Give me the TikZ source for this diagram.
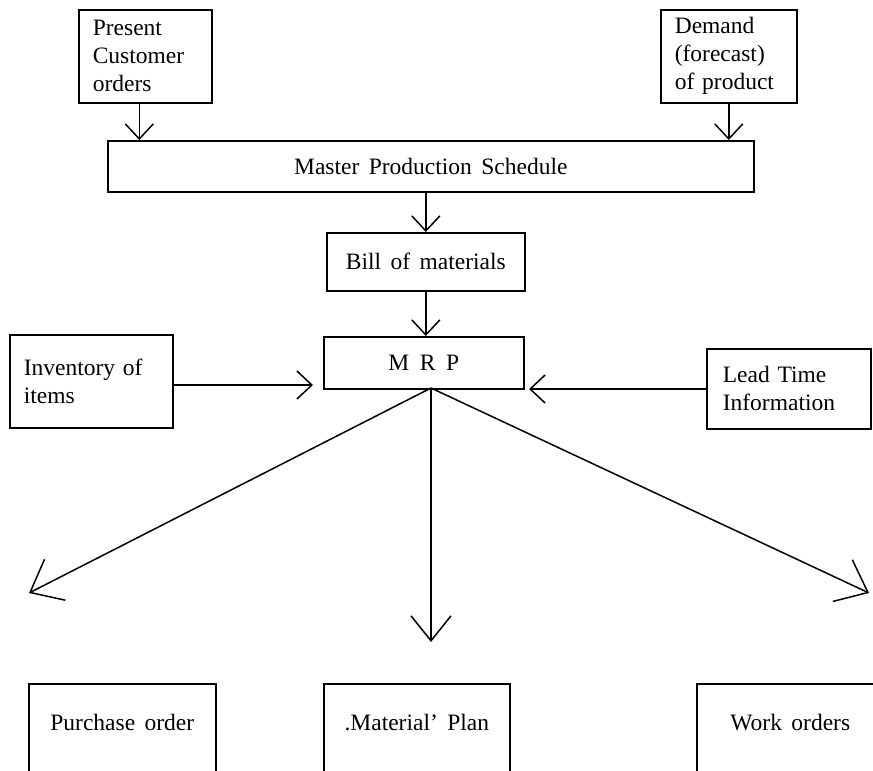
\documentclass[tikz,border=0pt]{standalone}
\usepackage{fontspec}
\setmainfont[WordSpace={1.6}]{Liberation Serif}
\usetikzlibrary{arrows.meta}
\begin{document}
\begin{tikzpicture}[x=1pt,y=-1pt,
  box/.style={draw, line width=1.6pt, inner sep=0pt, anchor=north west,
    font=\fontsize{23.5}{28}\selectfont},
  lbox/.style={box, align=left},
  arr/.style={line width=1.5pt, -{Straight Barb[length=15pt,width=28pt]}},
  bigarr/.style={line width=1.5pt, -{Straight Barb[length=25pt,width=40pt]}},
  diagarr/.style={line width=1.5pt, -{Straight Barb[length=28pt,width=46pt]}}]
\useasboundingbox (0,0) rectangle (873,771);
\clip (0,0) rectangle (873,771);
% top boxes
\node[lbox, minimum width=133pt, minimum height=93pt, text width=105pt, inner xsep=14pt] (pco) at (78,9) {Present\\Customer\\orders};
\node[lbox, minimum width=136pt, minimum height=93pt, text width=108pt, inner xsep=14pt] (dem) at (660,9) {Demand\\(forecast)\\of product};
\node[box, minimum width=646pt, minimum height=51pt] (mps) at (107,140) {Master Production Schedule};
\node[box, minimum width=198pt, minimum height=58pt] (bom) at (326,232) {Bill of materials};
\node[box, minimum width=200pt, minimum height=52pt] (mrp) at (323,336) {M\hspace{0.45em}R\hspace{0.45em}P};
\node[lbox, minimum width=163pt, minimum height=93pt, text width=135pt, inner xsep=14pt] (inv) at (9,334) {Inventory of\\items};
\node[lbox, minimum width=164pt, minimum height=80pt, text width=132pt, inner xsep=16pt] (lead) at (706,348) {Lead Time\\Information};
% bottom boxes (cut off by the lower edge)
\node[box, minimum width=187pt, text height=47pt, text depth=70pt] (po) at (28,683) {Purchase order};
\node[box, minimum width=186pt, text height=47pt, text depth=70pt] (mp) at (323,683) {.Material' Plan};
\node[box, minimum width=187pt, text height=47pt, text depth=70pt] (wo) at (696,683) {Work orders};
% coordinates
\coordinate (mrpL) at (313,385);
\coordinate (mrpR) at (529,389);
\coordinate (mrpB) at (431,388);
\coordinate (tipL) at (29,593);
\coordinate (tipM) at (431,642);
\coordinate (tipR) at (869,593);
% connectors
\draw[arr] ([xshift=-6pt]pco.south) -- ([xshift=-6pt]pco.south |- mps.north);
\draw[arr] (dem.south) -- (dem.south |- mps.north);
\draw[arr] (bom.north |- mps.south) -- (bom.north);
\draw[arr] (bom.south) -- (bom.south |- mrp.north);
\draw[arr] (inv.east |- mrpL) -- (mrpL);
\draw[arr] (lead.west |- mrpR) -- (mrpR);
\draw[diagarr] (mrpB) -- (tipL);
\draw[bigarr] (mrpB) -- (tipM);
\draw[diagarr] (mrpB) -- (tipR);
\end{tikzpicture}
\end{document}
